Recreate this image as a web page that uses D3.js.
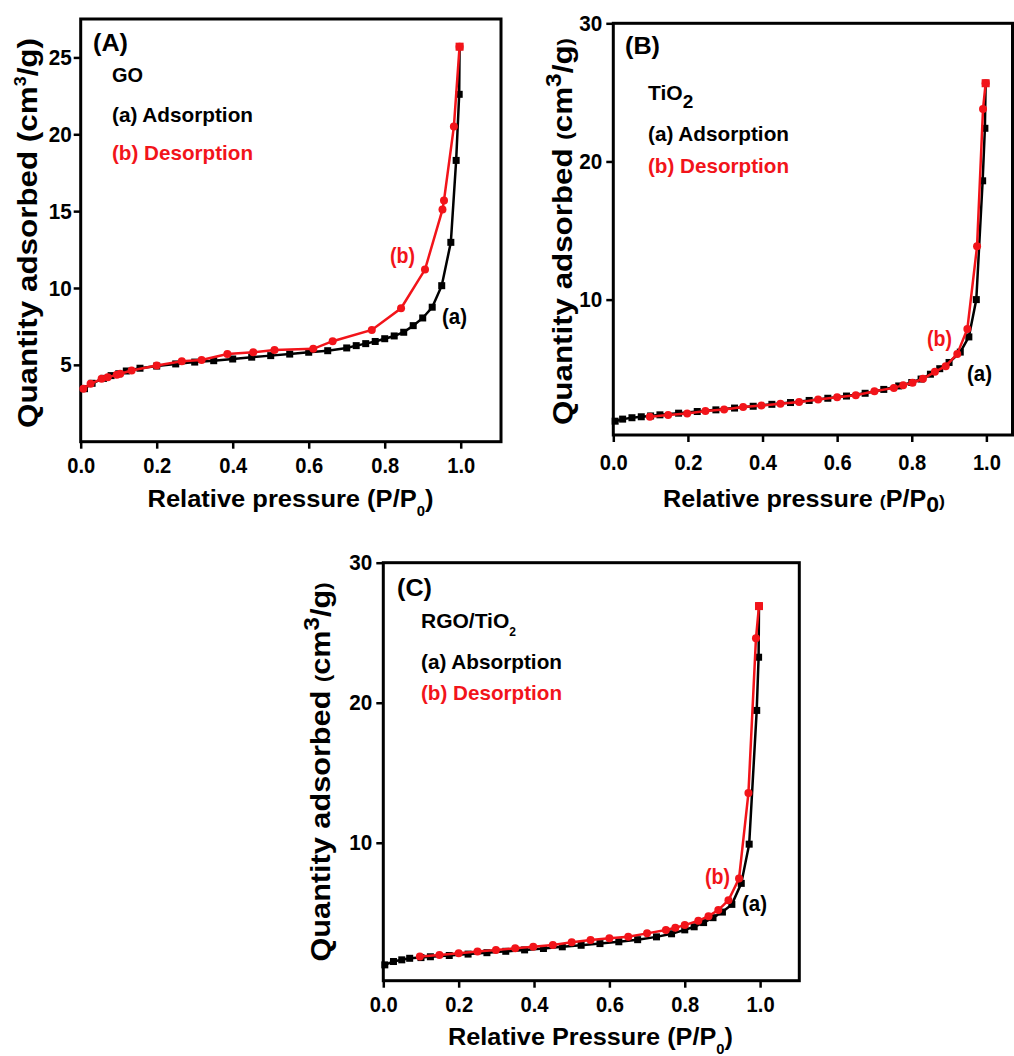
<!DOCTYPE html>
<html><head><meta charset="utf-8">
<script src="https://cdn.jsdelivr.net/npm/d3@7"></script>
<style>body{margin:0;background:#fff} text{font-family:"Liberation Sans",Arial,sans-serif;font-weight:bold}</style>
</head><body><svg id="c" width="1014" height="1056" xmlns="http://www.w3.org/2000/svg"></svg>
<script>
// ---- tick labels ----
const xTickValues = [0, 0.2, 0.4, 0.6, 0.8, 1.0];
const yTicksA = [5, 10, 15, 20, 25];
const yTicksBC = [10, 20, 30];

// ---- (A) GO ----
const goAdsX = [0.01,0.03,0.06,0.08,0.10,0.12,0.156,0.20,0.25,0.30,0.35,0.40,0.45,0.50,0.55,0.60,0.65,0.70,0.725,0.75,0.775,0.80,0.825,0.85,0.875,0.90,0.925,0.95,0.974,0.988,0.996,0.997];
const goAdsY = [3.45,3.80,4.12,4.30,4.42,4.60,4.78,4.92,5.06,5.18,5.27,5.38,5.50,5.60,5.70,5.82,5.92,6.10,6.25,6.38,6.52,6.70,6.88,7.12,7.55,8.05,8.75,10.15,12.97,18.3,22.6,25.7];
const goDesX = [0.997,0.982,0.956,0.952,0.906,0.843,0.766,0.663,0.612,0.51,0.454,0.386,0.318,0.266,0.20,0.134,0.104,0.095,0.071,0.055,0.026,0.007];
const goDesY = [25.7,20.5,15.7,15.1,11.2,8.68,7.27,6.54,6.04,5.97,5.82,5.71,5.32,5.24,4.96,4.63,4.42,4.35,4.20,4.09,3.77,3.44];

// ---- (B) TiO2 ----
const tiAdsX = [0.005,0.025,0.05,0.075,0.10,0.125,0.175,0.225,0.275,0.325,0.375,0.425,0.475,0.525,0.575,0.625,0.675,0.725,0.765,0.80,0.825,0.85,0.875,0.90,0.93,0.953,0.973,0.99,0.996,0.998];
const tiAdsY = [1.20,1.35,1.45,1.52,1.58,1.66,1.78,1.90,2.02,2.15,2.28,2.42,2.55,2.70,2.86,3.02,3.22,3.50,3.75,4.00,4.25,4.60,5.00,5.45,6.20,7.30,10.0,18.6,22.4,25.66];
const tiDesX = [0.998,0.991,0.975,0.949,0.922,0.891,0.862,0.83,0.802,0.777,0.752,0.70,0.65,0.60,0.549,0.498,0.448,0.397,0.348,0.297,0.247,0.198,0.147,0.098];
const tiDesY = [25.66,23.8,13.86,7.88,6.07,5.18,4.77,4.27,3.98,3.81,3.61,3.37,3.08,2.94,2.77,2.58,2.46,2.34,2.22,2.05,1.93,1.76,1.64,1.52];

// ---- (C) RGO/TiO2 ----
const rgoAdsX = [0.004,0.027,0.049,0.07,0.10,0.125,0.175,0.225,0.275,0.325,0.375,0.425,0.475,0.525,0.575,0.625,0.675,0.725,0.765,0.80,0.825,0.85,0.875,0.90,0.925,0.95,0.971,0.991,0.996,0.997];
const rgoAdsY = [1.28,1.52,1.64,1.75,1.80,1.86,1.95,2.05,2.15,2.25,2.35,2.45,2.57,2.68,2.80,2.93,3.08,3.28,3.50,3.78,4.00,4.30,4.65,5.05,5.60,7.10,9.90,19.45,23.25,26.9];
const rgoDesX = [0.997,0.989,0.969,0.944,0.916,0.889,0.863,0.836,0.80,0.775,0.75,0.70,0.65,0.60,0.55,0.50,0.45,0.398,0.35,0.299,0.25,0.20,0.149,0.097];
const rgoDesY = [26.9,24.6,13.55,7.44,5.90,5.19,4.76,4.43,4.12,3.93,3.77,3.53,3.29,3.18,3.06,2.89,2.70,2.58,2.46,2.35,2.23,2.11,1.99,1.87];

const RED = "#f2141a";
const svg = d3.select("#c");
svg.append("rect").attr("width",1014).attr("height",1056).attr("fill","#fff");

const panels = [
  { adsX: goAdsX, adsY: goAdsY, desX: goDesX, desY: goDesY,
    box: {l: 80.7, r: 501, t: 19, b: 441.7}, xMax: 1.106, yDom: [0, 27.5], yTicks: yTicksA,
    xPad: 9, yPad: 2,
    yTitle: {x: 37, y: 233, len: 390, size: 28, smallParen: false},
    xTitle: {x: 290.5, y: 507, len: 286, size: 24, text: "Relative pressure ", smallParen: false},
    tag: {t: "(A)", x: 93, y: 51, len: 35}, name: [{t:"GO", x:112, y:82, len: 31}],
    legA: {t:"(a) Adsorption", x:112, y:122}, legB: {t:"(b) Desorption", x:112, y:160},
    la: {x:442, y:324}, lb: {x:390, y:263} },
  { adsX: tiAdsX, adsY: tiAdsY, desX: tiDesX, desY: tiDesY,
    box: {l: 613.3, r: 1012.5, t: 23.3, b: 435}, xMax: 1.07, yDom: [0.2, 30], yTicks: yTicksBC,
    xPad: 12, yPad: 4,
    yTitle: {x: 572, y: 231.5, len: 387, size: 28, smallParen: true},
    xTitle: {x: 804, y: 507, len: 282, size: 24, text: "Relative pressure ", smallParen: true},
    tag: {t: "(B)", x: 625, y: 54, len: 35}, name: [{t:"TiO", x:648, y:100, sub:"2"}],
    legA: {t:"(a) Adsorption", x:648, y:141}, legB: {t:"(b) Desorption", x:648, y:173},
    la: {x:967, y:381}, lb: {x:927, y:346} },
  { adsX: rgoAdsX, adsY: rgoAdsY, desX: rgoDesX, desY: rgoDesY,
    box: {l: 383.3, r: 799.3, t: 562.7, b: 980.7}, xMax: 1.104, yDom: [0.15, 30], yTicks: yTicksBC,
    xPad: 9, yPad: 4,
    yTitle: {x: 330, y: 772, len: 379, size: 28, smallParen: true},
    xTitle: {x: 590.5, y: 1045, len: 285, size: 24, text: "Relative Pressure ", smallParen: false},
    tag: {t: "(C)", x: 397, y: 596, len: 35}, name: [{t:"RGO/TiO", x:421, y:628, sub:"2", subSize: 12}],
    legA: {t:"(a) Absorption", x:421, y:669}, legB: {t:"(b) Desorption", x:421, y:700},
    la: {x:742, y:911}, lb: {x:705, y:884} }
];

panels.forEach(p => {
  const g = svg.append("g");
  const x = d3.scaleLinear().domain([0, p.xMax]).range([p.box.l, p.box.r]);
  const y = d3.scaleLinear().domain(p.yDom).range([p.box.b, p.box.t]);

  // axes
  const xa = g.append("g").attr("transform", `translate(0,${p.box.b})`)
    .call(d3.axisBottom(x).tickValues(xTickValues).tickSize(7).tickSizeOuter(0).tickPadding(p.xPad).tickFormat(d3.format(".1f")));
  const ya = g.append("g").attr("transform", `translate(${p.box.l},0)`)
    .call(d3.axisLeft(y).tickValues(p.yTicks).tickSize(7).tickSizeOuter(0).tickPadding(p.yPad).tickFormat(d3.format("d")));
  [xa, ya].forEach(a => {
    a.select(".domain").remove();
    a.selectAll("line").attr("stroke", "#000").attr("stroke-width", 2.5);
    a.selectAll("text").attr("fill", "#000").style("font-size", "22px")
      .style("font-family", '"Liberation Sans",Arial,sans-serif').style("font-weight", "bold");
  });
  xa.selectAll("text").attr("textLength", 28).attr("lengthAdjust", "spacingAndGlyphs");
  ya.selectAll("text").attr("textLength", function() { return 11.5 * this.textContent.length; })
    .attr("lengthAdjust", "spacingAndGlyphs");

  // frame
  g.append("rect").attr("x", p.box.l).attr("y", p.box.t)
    .attr("width", p.box.r - p.box.l).attr("height", p.box.b - p.box.t)
    .attr("fill", "none").attr("stroke", "#000").attr("stroke-width", 3);

  const line = d3.line().x(d => x(d[0])).y(d => y(d[1]));
  const ads = p.adsX.map((v, i) => [v, p.adsY[i]]);
  const des = p.desX.map((v, i) => [v, p.desY[i]]);

  g.append("path").datum(ads).attr("d", line).attr("fill", "none").attr("stroke", "#000").attr("stroke-width", 2.5);
  g.selectAll(".sq").data(ads).join("rect").attr("class", "sq")
    .attr("x", d => x(d[0]) - 3.5).attr("y", d => y(d[1]) - 3.5).attr("width", 7).attr("height", 7).attr("fill", "#000");

  g.append("path").datum(des).attr("d", line).attr("fill", "none").attr("stroke", RED).attr("stroke-width", 2.5);
  g.selectAll(".ci").data(des).join("circle").attr("class", "ci")
    .attr("cx", d => x(d[0])).attr("cy", d => y(d[1])).attr("r", 4).attr("fill", RED);
  const top = des[0];
  g.append("rect").attr("x", x(top[0]) - 4).attr("y", y(top[1]) - 4).attr("width", 8).attr("height", 8).attr("fill", RED);

  // y title
  const yt = g.append("text").attr("transform", `translate(${p.yTitle.x},${p.yTitle.y}) rotate(-90)`)
    .attr("text-anchor", "middle").style("font-size", p.yTitle.size + "px")
    .attr("textLength", p.yTitle.len).attr("lengthAdjust", "spacingAndGlyphs");
  yt.append("tspan").text("Quantity adsorbed ");
  yt.append("tspan").text("(").style("font-size", p.yTitle.smallParen ? "20px" : null);
  yt.append("tspan").text("cm");
  yt.append("tspan").text("3").style("font-size", p.yTitle.smallParen ? "22px" : "16px").attr("dy", -11);
  yt.append("tspan").text("/g").attr("dy", 11);
  yt.append("tspan").text(")").style("font-size", p.yTitle.smallParen ? "20px" : null);

  // x title
  const xt = g.append("text").attr("x", p.xTitle.x).attr("y", p.xTitle.y)
    .attr("text-anchor", "middle").style("font-size", p.xTitle.size + "px")
    .attr("textLength", p.xTitle.len).attr("lengthAdjust", "spacingAndGlyphs");
  xt.append("tspan").text(p.xTitle.text);
  xt.append("tspan").text("(").style("font-size", p.xTitle.smallParen ? "17px" : null);
  xt.append("tspan").text("P/P");
  xt.append("tspan").text("0").style("font-size", p.xTitle.smallParen ? "22px" : "14px").attr("dy", p.xTitle.smallParen ? 5 : 9);
  xt.append("tspan").text(")").attr("dy", p.xTitle.smallParen ? -5 : -9).style("font-size", p.xTitle.smallParen ? "17px" : null);

  // annotations
  const fit = (sel, len) => sel.attr("textLength", len).attr("lengthAdjust", "spacingAndGlyphs");
  fit(g.append("text").attr("x", p.tag.x).attr("y", p.tag.y).style("font-size", "23px").text(p.tag.t), p.tag.len);
  p.name.forEach(n => {
    const t = g.append("text").attr("x", n.x).attr("y", n.y).style("font-size", "21px");
    t.append("tspan").text(n.t);
    if (n.sub) t.append("tspan").text(n.sub).attr("dy", 8).style("font-size", (n.subSize || 19) + "px");
    if (n.len) fit(t, n.len);
  });
  fit(g.append("text").attr("x", p.legA.x).attr("y", p.legA.y).style("font-size", "21px").attr("fill", "#000").text(p.legA.t), 141);
  fit(g.append("text").attr("x", p.legB.x).attr("y", p.legB.y).style("font-size", "21px").attr("fill", RED).text(p.legB.t), 141);
  fit(g.append("text").attr("x", p.la.x).attr("y", p.la.y).style("font-size", "22px").attr("fill", "#000").text("(a)"), 25);
  fit(g.append("text").attr("x", p.lb.x).attr("y", p.lb.y).style("font-size", "22px").attr("fill", RED).text("(b)"), 25);
});
</script></body></html>
